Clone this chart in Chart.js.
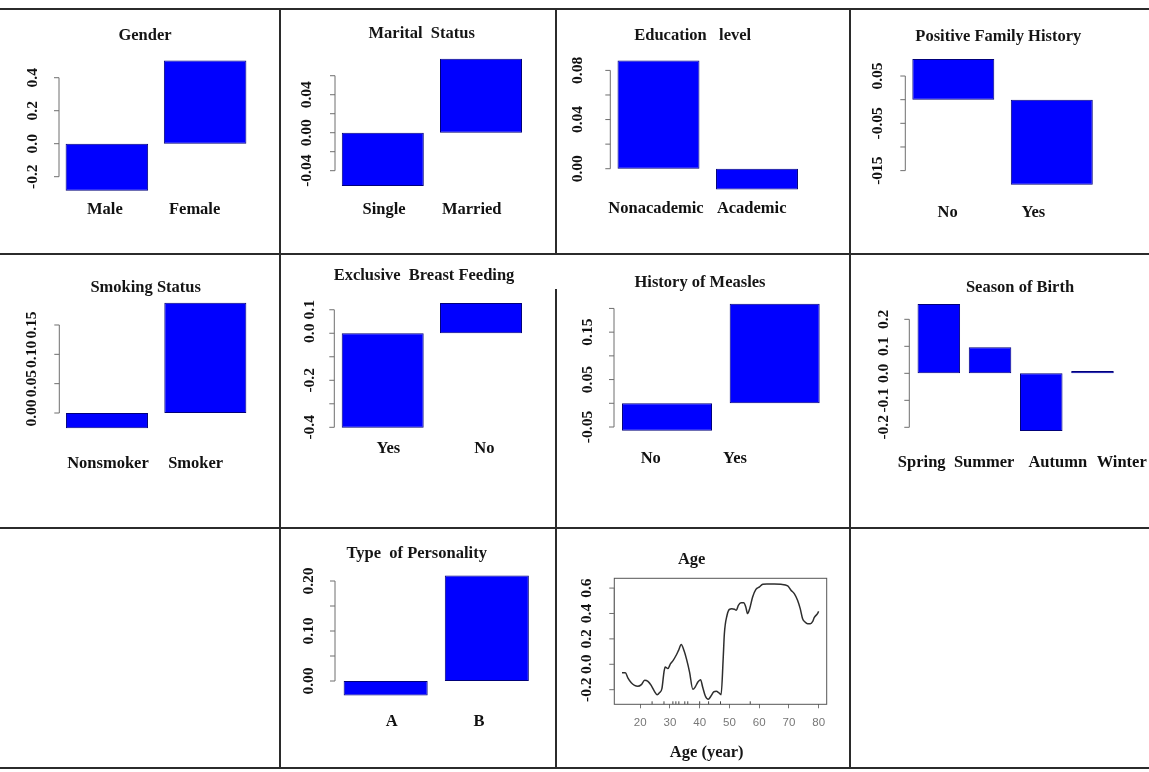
<!DOCTYPE html>
<html>
<head>
<meta charset="utf-8">
<script src="https://cdn.jsdelivr.net/npm/chart.js@4.4.0/dist/chart.umd.min.js"></script>
<style>
body { margin: 0; background: #fff; }
#pagina { position: relative; width: 1149px; height: 772px; overflow: hidden; background: #fff; }
#pagina canvas { position: absolute; }
.titulo { position: absolute; transform: translate(-50%, -50%); font: bold 16.5px "Liberation Serif", "Times New Roman", serif; white-space: pre; color: #151515; }
.linha { position: absolute; background: #2b2b2b; z-index: 2; }
</style>
</head>
<body>
<div id="pagina"></div>
<script>
const cores = { barra: '#0000ff', borda: '#00007a', eixo: '#6e6e6e', texto: '#111' };

// Gender
const generoCategorias = ['Male', 'Female'];
const generoValores = [-0.285, 0.505];
const generoTicks = [-0.2, 0, 0.2, 0.4];
const generoRotulos = ['-0.2', '0.0', '0.2', '0.4'];

// Marital Status
const civilCategorias = ['Single', 'Married'];
const civilValores = [-0.056, 0.078];
const civilTicks = [-0.04, -0.02, 0, 0.02, 0.04, 0.06];
const civilRotulos = ['-0.04', '', '0.00', '', '0.04', ''];

// Education level
const educacaoCategorias = ['Nonacademic', 'Academic'];
const educacaoValores = [0.088, -0.017];
const educacaoTicks = [0, 0.02, 0.04, 0.06, 0.08];
const educacaoRotulos = ['0.00', '', '0.04', '', '0.08'];

// Positive Family History
const familiaCategorias = ['No', 'Yes'];
const familiaValores = [0.086, -0.18];
const familiaTicks = [-0.15, -0.10, -0.05, 0, 0.05];
const familiaRotulos = ['-015', '', '-0.05', '', '0.05'];

// Smoking Status
const fumoCategorias = ['Nonsmoker', 'Smoker'];
const fumoValores = [-0.026, 0.188];
const fumoTicks = [0, 0.05, 0.10, 0.15];
const fumoRotulos = ['0.00', '0.05', '0.10', '0.15'];

// Exclusive Breast Feeding
const amamentacaoCategorias = ['Yes', 'No'];
const amamentacaoValores = [-0.402, 0.129];
const amamentacaoTicks = [-0.4, -0.3, -0.2, -0.1, 0, 0.1];
const amamentacaoRotulos = ['-0.4', '', '-0.2', '', '0.0', '0.1'];

// History of Measles
const sarampoCategorias = ['No', 'Yes'];
const sarampoValores = [-0.058, 0.21];
const sarampoTicks = [-0.05, 0, 0.05, 0.10, 0.15, 0.20];
const sarampoRotulos = ['-0.05', '', '0.05', '', '0.15', ''];

// Season of Birth
const estacaoCategorias = ['Spring', 'Summer', 'Autumn', 'Winter'];
const estacaoValores = [0.257, 0.097, -0.214, 0.009];
const estacaoTicks = [-0.2, -0.1, 0, 0.1, 0.2];
const estacaoRotulos = ['-0.2', '-0.1', '0.0', '0.1', '0.2'];

// Type of Personality
const personalidadeCategorias = ['A', 'B'];
const personalidadeValores = [-0.029, 0.211];
const personalidadeTicks = [0, 0.05, 0.10, 0.15, 0.20];
const personalidadeRotulos = ['0.00', '', '0.10', '', '0.20'];

// Age
const idadeAnos = [13.9, 15.0, 15.9, 17.0, 18.1, 19.2, 20.4, 21.5, 22.6, 23.7, 24.8, 25.7, 26.5, 27.3, 28.0, 28.4,
    29.3, 30.2, 31.1, 32.1, 32.9, 33.8, 34.7, 35.6, 36.6, 37.7, 38.5, 39.4, 40.3, 41.0, 41.9, 42.9, 43.8, 44.7,
    45.6, 46.4, 47.2, 47.9, 48.3, 49.2, 50.0, 50.8, 51.7, 52.3, 53.0, 53.9, 54.8, 55.5, 56.1, 56.8, 57.8, 58.9,
    60.1, 61.2, 62.6, 65.1, 67.3, 69.6, 70.7, 71.8, 72.9, 73.8, 74.6, 75.4, 76.3, 77.2, 78.0, 78.5, 79.6, 80.0];
const idadeEfeito = [-0.066, -0.066, -0.108, -0.145, -0.166, -0.173, -0.160, -0.126, -0.134, -0.166, -0.213, -0.239,
    -0.223, -0.192, -0.061, -0.021, -0.034, 0.005, 0.031, 0.071, 0.110, 0.155, 0.110, 0.039, -0.061, -0.197, -0.179,
    -0.139, -0.121, -0.179, -0.250, -0.276, -0.250, -0.218, -0.213, -0.223, -0.239, 0.044, 0.241, 0.386, 0.433,
    0.438, 0.433, 0.425, 0.464, 0.485, 0.485, 0.451, 0.399, 0.438, 0.530, 0.590, 0.609, 0.630, 0.632, 0.632, 0.630,
    0.617, 0.583, 0.556, 0.504, 0.438, 0.359, 0.333, 0.320, 0.320, 0.338, 0.367, 0.399, 0.417];
const idadeRug = [24, 28, 31, 32, 33, 35, 36, 40, 43, 47, 57];
const idadeTicksX = [20, 30, 40, 50, 60, 70, 80];
const idadeTicksY = [-0.2, 0, 0.2, 0.4, 0.6];
const idadeRotulosY = ['-0.2', '0.0', '0.2', '0.4', '0.6'];
const idadeFaixaX = [11.3, 82.7];
const idadeFaixaY = [-0.315, 0.677];

const pagina = document.getElementById('pagina');

// eixo no estilo do R: linha so entre o primeiro e o ultimo tick, rotulos girados
const eixoR = {
    id: 'eixoR',
    afterDatasetsDraw(chart, args, op) {
        const ctx = chart.ctx;
        const y = chart.scales.y;
        const pos = op.ticks.map(v => y.getPixelForValue(v));
        ctx.save();
        if (op.caixa) {
            const a = chart.chartArea;
            ctx.strokeStyle = '#555';
            ctx.lineWidth = 1;
            ctx.strokeRect(a.left, a.top, a.right - a.left, a.bottom - a.top);
        }
        ctx.strokeStyle = cores.eixo;
        ctx.lineWidth = 1;
        ctx.beginPath();
        ctx.moveTo(op.eixoX, pos[0]);
        ctx.lineTo(op.eixoX, pos[pos.length - 1]);
        pos.forEach(p => {
            ctx.moveTo(op.eixoX - 5, p);
            ctx.lineTo(op.eixoX, p);
        });
        ctx.stroke();

        ctx.fillStyle = cores.texto;
        ctx.font = 'bold 15.5px "Liberation Serif"';
        ctx.textAlign = 'center';
        ctx.textBaseline = 'middle';
        op.rotulos.forEach((t, i) => {
            if (!t) return;
            ctx.save();
            ctx.translate(op.eixoX - op.distRotulo, pos[i]);
            ctx.rotate(-Math.PI / 2);
            ctx.fillText(t, 0, 0);
            ctx.restore();
        });

        if (op.catAjuste) {
            const x = chart.scales.x;
            ctx.font = 'bold 16.5px "Liberation Serif"';
            chart.data.labels.forEach((t, i) => {
                ctx.fillText(t, x.getPixelForValue(i) + op.catAjuste[i], op.catY);
            });
        }
        ctx.restore();
    }
};

function novoCanvas(x, y, w, h) {
    const c = document.createElement('canvas');
    c.width = w;
    c.height = h;
    c.style.left = x + 'px';
    c.style.top = y + 'px';
    pagina.appendChild(c);
    return c;
}

function escreverTitulo(texto, pos) {
    const d = document.createElement('div');
    d.className = 'titulo';
    d.textContent = texto;
    d.style.left = pos[0] + 'px';
    d.style.top = pos[1] + 'px';
    pagina.appendChild(d);
}

function linha(x, y, w, h) {
    const d = document.createElement('div');
    d.className = 'linha';
    d.style.left = x + 'px';
    d.style.top = y + 'px';
    d.style.width = w + 'px';
    d.style.height = h + 'px';
    pagina.appendChild(d);
}

function criarBarras(p) {
    const [cx, cy, cw, ch] = p.celula;
    const canvas = novoCanvas(cx, cy, cw, ch);
    new Chart(canvas, {
        type: 'bar',
        data: {
            labels: p.categorias,
            datasets: [{
                data: p.valores,
                backgroundColor: cores.barra,
                borderColor: cores.borda,
                borderWidth: 1,
                borderSkipped: false,
                barPercentage: p.barra,
                categoryPercentage: 1
            }]
        },
        options: {
            responsive: false,
            animation: false,
            events: [],
            layout: {
                padding: {
                    left: p.area[0] - cx,
                    top: p.area[1] - cy,
                    right: cx + cw - p.area[2],
                    bottom: cy + ch - p.area[3]
                }
            },
            plugins: {
                legend: { display: false },
                tooltip: { enabled: false },
                eixoR: {
                    ticks: p.ticks,
                    rotulos: p.rotulos,
                    eixoX: p.eixoX - cx,
                    distRotulo: p.distRotulo,
                    catY: p.catY - cy,
                    catAjuste: p.catAjuste
                }
            },
            scales: {
                x: { display: false },
                y: { display: false, min: p.faixa[0], max: p.faixa[1] }
            }
        },
        plugins: [eixoR]
    });
    escreverTitulo(p.titulo, p.tituloPos);
}

function criarIdade() {
    const cx = 557, cy = 529, cw = 292, ch = 238;
    const area = [614.3, 578.3, 826.7, 704.3];
    const alturaX = 30;
    const canvas = novoCanvas(cx, cy, cw, ch);
    new Chart(canvas, {
        type: 'line',
        data: {
            datasets: [
                {
                    data: idadeAnos.map((a, i) => ({ x: a, y: idadeEfeito[i] })),
                    borderColor: '#2e2e2e',
                    borderWidth: 1.5,
                    pointRadius: 0,
                    cubicInterpolationMode: 'monotone',
                    fill: false
                },
                {
                    data: idadeRug.map(a => ({ x: a, y: idadeFaixaY[0] })),
                    showLine: false,
                    pointStyle: 'line',
                    pointRotation: 90,
                    pointRadius: 3,
                    pointBorderWidth: 1,
                    pointBorderColor: '#444'
                }
            ]
        },
        options: {
            responsive: false,
            animation: false,
            events: [],
            layout: {
                padding: {
                    left: area[0] - cx,
                    top: area[1] - cy,
                    right: cx + cw - area[2],
                    bottom: cy + ch - area[3] - alturaX
                }
            },
            plugins: {
                legend: { display: false },
                tooltip: { enabled: false },
                eixoR: {
                    ticks: idadeTicksY,
                    rotulos: idadeRotulosY,
                    eixoX: area[0] - cx,
                    distRotulo: 27.6,
                    caixa: true
                }
            },
            scales: {
                x: {
                    type: 'linear',
                    min: idadeFaixaX[0],
                    max: idadeFaixaX[1],
                    afterBuildTicks: s => { s.ticks = idadeTicksX.map(v => ({ value: v })); },
                    afterFit: s => { s.height = alturaX; },
                    grid: { drawOnChartArea: false, drawTicks: true, tickLength: 4, color: '#777' },
                    border: { display: false },
                    ticks: {
                        font: { family: '"Liberation Sans", Arial, sans-serif', size: 11.5 },
                        color: '#777',
                        padding: 8,
                        maxRotation: 0,
                        autoSkip: false
                    }
                },
                y: { display: false, min: idadeFaixaY[0], max: idadeFaixaY[1] }
            }
        },
        plugins: [eixoR]
    });
    escreverTitulo('Age', [691.7, 559.3]);
    escreverTitulo('Age (year)', [706.7, 751.7]);
}

const paineis = [
    { titulo: 'Gender', tituloPos: [145, 35], celula: [0, 10, 278, 243], area: [57.75, 50, 254.25, 195],
      categorias: generoCategorias, valores: generoValores, ticks: generoTicks, rotulos: generoRotulos,
      faixa: [-0.311, 0.568], barra: 0.84, eixoX: 59, distRotulo: 26, catY: 210, catAjuste: [-2, -10.5] },
    { titulo: 'Marital  Status', tituloPos: [421.7, 33], celula: [281, 10, 273, 243], area: [333.7, 50, 530.1, 195],
      categorias: civilCategorias, valores: civilValores, ticks: civilTicks, rotulos: civilRotulos,
      faixa: [-0.0656, 0.0871], barra: 0.835, eixoX: 335, distRotulo: 28.3, catY: 210, catAjuste: [1.2, -9.3] },
    { titulo: 'Education   level', tituloPos: [692.7, 35], celula: [557, 10, 292, 243], area: [609.25, 50, 806.25, 195],
      categorias: educacaoCategorias, valores: educacaoValores, ticks: educacaoTicks, rotulos: educacaoRotulos,
      faixa: [-0.0214, 0.0966], barra: 0.832, eixoX: 610.3, distRotulo: 32.6, catY: 209, catAjuste: [-2.5, -5.3] },
    { titulo: 'Positive Family History', tituloPos: [998.3, 35.7], celula: [851, 10, 298, 243], area: [904.05, 50, 1101.05, 195],
      categorias: familiaCategorias, valores: familiaValores, ticks: familiaTicks, rotulos: familiaRotulos,
      faixa: [-0.2015, 0.105], barra: 0.832, eixoX: 905.3, distRotulo: 27.6, catY: 213, catAjuste: [-5.6, -18.5] },
    { titulo: 'Smoking Status', tituloPos: [145.7, 287.3], celula: [0, 255, 278, 272], area: [57.8, 298, 254.5, 440],
      categorias: fumoCategorias, valores: fumoValores, ticks: fumoTicks, rotulos: fumoRotulos,
      faixa: [-0.046, 0.196], barra: 0.834, eixoX: 59.3, distRotulo: 27, catY: 464, catAjuste: [1, -9.7] },
    { titulo: 'Exclusive  Breast Feeding', tituloPos: [424, 275], celula: [281, 255, 273, 272], area: [333.55, 298, 530.15, 440],
      categorias: amamentacaoCategorias, valores: amamentacaoValores, ticks: amamentacaoTicks, rotulos: amamentacaoRotulos,
      faixa: [-0.454, 0.150], barra: 0.834, eixoX: 334.3, distRotulo: 24.3, catY: 448.3, catAjuste: [5.6, 3.3] },
    { titulo: 'History of Measles', tituloPos: [700, 281.7], celula: [557, 255, 292, 272], area: [613.2, 298, 828.5, 440],
      categorias: sarampoCategorias, valores: sarampoValores, ticks: sarampoTicks, rotulos: sarampoRotulos,
      faixa: [-0.0774, 0.222], barra: 0.836, eixoX: 614, distRotulo: 25.7, catY: 459, catAjuste: [-16.3, -39.7] },
    { titulo: 'Season of Birth', tituloPos: [1020, 287.3], celula: [851, 255, 298, 272], area: [913.2, 298, 1118.1, 440],
      categorias: estacaoCategorias, valores: estacaoValores, ticks: estacaoTicks, rotulos: estacaoRotulos,
      faixa: [-0.247, 0.279], barra: 0.83, eixoX: 909.3, distRotulo: 25, catY: 463, catAjuste: [-17.1, -5.9, 16.5, 29.2] },
    { titulo: 'Type  of Personality', tituloPos: [416.7, 553.3], celula: [281, 529, 273, 238], area: [335.1, 565, 537.4, 705],
      categorias: personalidadeCategorias, valores: personalidadeValores, ticks: personalidadeTicks, rotulos: personalidadeRotulos,
      faixa: [-0.048, 0.232], barra: 0.831, eixoX: 335, distRotulo: 25.7, catY: 721.7, catAjuste: [6, -7.8] }
];

paineis.forEach(criarBarras);
criarIdade();

// linhas da tabela
linha(0, 8, 1149, 2);
linha(0, 253, 1149, 2);
linha(0, 527, 1149, 2);
linha(0, 767, 1149, 2);
linha(278.8, 8, 2, 761);
linha(554.5, 8, 2, 247);
linha(554.5, 289, 2, 480);
linha(849, 8, 2, 761);
</script>
</body>
</html>
